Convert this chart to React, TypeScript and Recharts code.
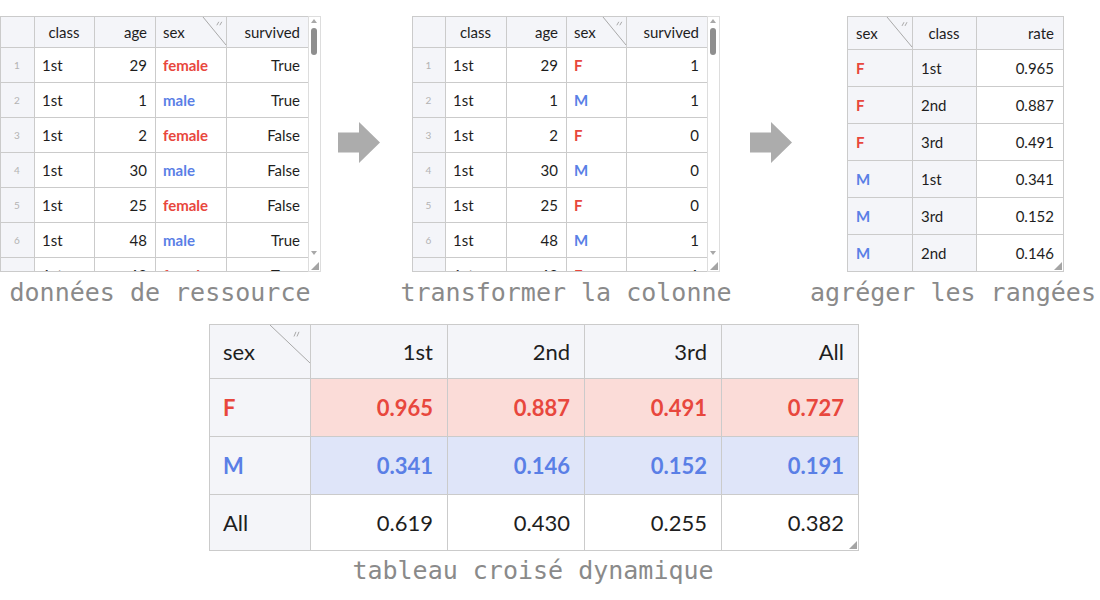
import { ScatterChart, Scatter, XAxis, YAxis } from "recharts"

const W = 1100
const H = 600

// source data (first rows of the titanic set)
const sourceHeader = ["class", "age", "sex", "survived"]
const sourceClass = ["1st", "1st", "1st", "1st", "1st", "1st", "1st"]
const sourceAge = [29, 1, 2, 30, 25, 48, 63]
const sourceSex = ["female", "male", "female", "male", "female", "male", "female"]
const sourceSurvived = ["True", "True", "False", "False", "False", "True", "True"]

// after column transform
const codedSex = ["F", "M", "F", "M", "F", "M", "F"]
const codedSurvived = [1, 1, 0, 0, 0, 1, 1]

// aggregated rows
const aggHeader = ["sex", "class", "rate"]
const aggSex = ["F", "F", "F", "M", "M", "M"]
const aggClass = ["1st", "2nd", "3rd", "1st", "3rd", "2nd"]
const aggRate = [0.965, 0.887, 0.491, 0.341, 0.152, 0.146]

// pivot table
const pivotHeader = ["sex", "1st", "2nd", "3rd", "All"]
const pivotRowLabels = ["F", "M", "All"]
const pivotF = [0.965, 0.887, 0.491, 0.727]
const pivotM = [0.341, 0.146, 0.152, 0.191]
const pivotAll = [0.619, 0.43, 0.255, 0.382]

const captions = ["données de ressource", "transformer la colonne", "agréger les rangées", "tableau croisé dynamique"]

const RED = "#e8473d"
const BLUE = "#5a7fe6"
const INK = "#1e1e1e"
const HEAD_BG = "#f4f5f9"
const GRID = "#cbcbcb"
const PINK = "#fbdcd8"
const LILAC = "#dfe5f9"
const CAPTION = "#8a8a8a"
const FONT = "Lato, 'Noto Sans', sans-serif"
const MONO = "'DejaVu Sans Mono', monospace"

type Anchor = "start" | "middle" | "end"
type Spec = { text: string; anchor?: Anchor; bg?: string; color?: string; bold?: boolean; size?: number }

const edges = (start: number, sizes: number[]) => {
  const e = [start]
  sizes.forEach((s) => e.push(e[e.length - 1] + s))
  return e
}

function gridCells(left: number, top: number, widths: number[], heights: number[], rows: Spec[][], pad: number, cut?: number) {
  const xs = edges(left, widths)
  const ys = edges(top, heights)
  const out: any[] = []
  rows.forEach((row, r) =>
    row.forEach((s, c) => {
      const w = widths[c]
      const h = heights[r]
      out.push({
        x: xs[c] + w / 2,
        y: ys[r] + h / 2,
        w,
        h,
        text: s.text,
        anchor: s.anchor ?? "start",
        bg: s.bg ?? "#ffffff",
        color: s.color ?? INK,
        bold: !!s.bold,
        size: s.size ?? 15,
        pad,
        visible: cut === undefined ? h : Math.max(0, Math.min(h, cut - ys[r])),
      })
    })
  )
  return out
}

const sexColor = (s: string) => (s === "female" || s === "F" ? RED : BLUE)
const srcAnchors: Anchor[] = ["middle", "end", "start", "end"]
const rowNo = (i: number): Spec => ({ text: String(i + 1), anchor: "middle", bg: HEAD_BG, color: "#b3b3b3", size: 10 })

const t1Rows: Spec[][] = [
  [{ text: "", bg: HEAD_BG }, ...sourceHeader.map((t, i) => ({ text: t, anchor: srcAnchors[i], bg: HEAD_BG }))],
  ...sourceClass.map((c, i): Spec[] => [
    rowNo(i),
    { text: c },
    { text: String(sourceAge[i]), anchor: "end" },
    { text: sourceSex[i], bold: true, color: sexColor(sourceSex[i]) },
    { text: sourceSurvived[i], anchor: "end" },
  ]),
]

const t2Rows: Spec[][] = [
  [{ text: "", bg: HEAD_BG }, ...sourceHeader.map((t, i) => ({ text: t, anchor: srcAnchors[i], bg: HEAD_BG }))],
  ...sourceClass.map((c, i): Spec[] => [
    rowNo(i),
    { text: c },
    { text: String(sourceAge[i]), anchor: "end" },
    { text: codedSex[i], bold: true, color: sexColor(codedSex[i]) },
    { text: String(codedSurvived[i]), anchor: "end" },
  ]),
]

const aggAnchors: Anchor[] = ["start", "middle", "end"]
const t3Rows: Spec[][] = [
  aggHeader.map((t, i) => ({ text: t, anchor: aggAnchors[i], bg: HEAD_BG })),
  ...aggSex.map((s, i): Spec[] => [
    { text: s, bold: true, color: sexColor(s), bg: HEAD_BG },
    { text: aggClass[i], bg: HEAD_BG },
    { text: aggRate[i].toFixed(3), anchor: "end" },
  ]),
]

const pivotValues = [pivotF, pivotM, pivotAll]
const pivotStyle = [
  { bg: PINK, color: RED, bold: true },
  { bg: LILAC, color: BLUE, bold: true },
  { bg: "#ffffff", color: INK, bold: false },
]
const t4Rows: Spec[][] = [
  pivotHeader.map((t, i) => ({ text: t, anchor: i === 0 ? "start" : "end", bg: HEAD_BG, size: 22 })),
  ...pivotRowLabels.map((label, r): Spec[] => [
    { text: label, bg: HEAD_BG, color: pivotStyle[r].color, bold: pivotStyle[r].bold, size: 22 },
    ...pivotValues[r].map((v) => ({ text: v.toFixed(3), anchor: "end" as Anchor, ...pivotStyle[r], size: 22 })),
  ]),
]

// layout
const T1 = { left: 0, top: 16, widths: [34, 60, 61, 71, 82], heights: [31, 35, 35, 35, 35, 35, 35, 35], cut: 271 }
const T2 = { left: 412, top: 16, widths: [33, 61, 60, 60, 81], heights: [31, 35, 35, 35, 35, 35, 35, 35], cut: 271 }
const T3 = { left: 847, top: 16, widths: [65, 64, 87], heights: [33, 37, 37, 37, 37, 37, 37] }
const T4 = { left: 209, top: 324, widths: [101, 137, 137, 137, 137], heights: [54, 58, 58, 56] }

const cells = [
  ...gridCells(T1.left, T1.top, T1.widths, T1.heights, t1Rows, 8, T1.cut),
  ...gridCells(T2.left, T2.top, T2.widths, T2.heights, t2Rows, 8, T2.cut),
  ...gridCells(T3.left, T3.top, T3.widths, T3.heights, t3Rows, 9),
  ...gridCells(T4.left, T4.top, T4.widths, T4.heights, t4Rows, 14),
]

const sum = (a: number[]) => a.reduce((s, v) => s + v, 0)
const box = (kind: string, left: number, top: number, w: number, h: number, extra: any = {}) => ({
  kind, x: left + w / 2, y: top + h / 2, w, h, ...extra,
})

const t1W = sum(T1.widths)
const t2W = sum(T2.widths)
const t3W = sum(T3.widths)
const t4W = sum(T4.widths)
const t3H = sum(T3.heights)
const t4H = sum(T4.heights)

const decor = [
  box("frame", T1.left, T1.top, t1W + 12, T1.cut - T1.top),
  box("scroll", T1.left + t1W, T1.top, 12, T1.cut - T1.top),
  box("frame", T2.left, T2.top, t2W + 12, T2.cut - T2.top),
  box("scroll", T2.left + t2W, T2.top, 12, T2.cut - T2.top),
  box("frame", T3.left, T3.top, t3W, t3H),
  box("frame", T4.left, T4.top, t4W, t4H),
  box("sort", edges(T1.left, T1.widths)[4] - 23, T1.top, 23, 29),
  box("sort", edges(T2.left, T2.widths)[4] - 23, T2.top, 23, 29),
  box("sort", T3.left + T3.widths[0] - 25, T3.top, 25, 31),
  box("sort", T4.left + T4.widths[0] - 40, T4.top, 40, 39),
  box("grip", T1.left + t1W + 3, T1.cut - 9, 8, 8),
  box("grip", T2.left + t2W + 3, T2.cut - 9, 8, 8),
  box("grip", T3.left + t3W - 9, T3.top + t3H - 9, 8, 8),
  box("grip", T4.left + t4W - 9, T4.top + t4H - 9, 8, 8),
  box("arrow", 338, 122, 42, 41),
  box("arrow", 750, 122, 42, 41),
  { kind: "caption", x: 160, y: 292, text: captions[0] },
  { kind: "caption", x: 566, y: 292, text: captions[1] },
  { kind: "caption", x: 953, y: 292, text: captions[2] },
  { kind: "caption", x: 533, y: 570, text: captions[3] },
]

function CellShape(props: any) {
  const { cx, cy, payload: p } = props
  if (!p) return null
  const left = cx - p.w / 2
  const top = cy - p.h / 2
  const tx = p.anchor === "start" ? left + p.pad : p.anchor === "end" ? left + p.w - p.pad : cx
  const body = (
    <g>
      <rect x={left + 0.5} y={top + 0.5} width={p.w} height={p.h} fill={p.bg} stroke={GRID} />
      {p.text !== "" && (
        <text
          x={tx}
          y={cy}
          textAnchor={p.anchor}
          dominantBaseline="central"
          fontFamily={FONT}
          fontSize={p.size}
          fontWeight={p.bold ? 700 : 400}
          fill={p.color}
        >
          {p.text}
        </text>
      )}
    </g>
  )
  if (p.visible >= p.h) return body
  if (p.visible <= 0) return null
  const id = `clip-${Math.round(left)}-${Math.round(top)}`
  return (
    <g>
      <defs>
        <clipPath id={id}>
          <rect x={left} y={top} width={p.w + 1} height={p.visible} />
        </clipPath>
      </defs>
      <g clipPath={`url(#${id})`}>{body}</g>
    </g>
  )
}

function DecorShape(props: any) {
  const { cx, cy, payload: d } = props
  if (!d) return null
  const left = cx - (d.w ?? 0) / 2
  const top = cy - (d.h ?? 0) / 2
  switch (d.kind) {
    case "frame":
      return <rect x={left + 0.5} y={top + 0.5} width={d.w} height={d.h} fill="none" stroke={GRID} />
    case "scroll": {
      const mid = left + d.w / 2
      return (
        <g>
          <rect x={left + 0.5} y={top + 0.5} width={d.w} height={d.h} fill="#ffffff" stroke="#dddddd" />
          <polygon points={`${mid - 3},${top + 7} ${mid + 3},${top + 7} ${mid},${top + 3}`} fill="#a8a8a8" />
          <rect x={mid - 3} y={top + 12} width={6} height={27} rx={3} fill="#8e8e8e" />
          <polygon points={`${mid - 3},${top + d.h - 20} ${mid + 3},${top + d.h - 20} ${mid},${top + d.h - 16}`} fill="#a8a8a8" />
        </g>
      )
    }
    case "sort":
      return (
        <g stroke="#a9a9a9" strokeWidth={1}>
          <line x1={left} y1={top + 1} x2={left + d.w} y2={top + d.h} />
          <line x1={left + d.w * 0.6} y1={top + d.h * 0.32} x2={left + d.w * 0.6 + 2} y2={top + d.h * 0.2} />
          <line x1={left + d.w * 0.6 + 3} y1={top + d.h * 0.32} x2={left + d.w * 0.6 + 5} y2={top + d.h * 0.2} />
        </g>
      )
    case "grip":
      return <polygon points={`${left},${top + d.h} ${left + d.w},${top + d.h} ${left + d.w},${top}`} fill="#a4a4a4" />
    case "arrow": {
      const sTop = cy - 10
      const sBot = cy + 10
      const hx = left + d.w / 2
      return (
        <polygon
          points={`${left},${sTop} ${hx},${sTop} ${hx},${top} ${left + d.w},${cy} ${hx},${top + d.h} ${hx},${sBot} ${left},${sBot}`}
          fill="#acacac"
        />
      )
    }
    case "caption":
      return (
        <text x={cx} y={cy} textAnchor="middle" dominantBaseline="central" fontFamily={MONO} fontSize={25} fill={CAPTION}>
          {d.text}
        </text>
      )
    default:
      return null
  }
}

export default function App() {
  return (
    <div style={{ position: "absolute", left: 0, top: 0, width: W, height: H, background: "#ffffff" }}>
      <ScatterChart width={W} height={H} margin={{ top: 0, right: 0, bottom: 0, left: 0 }}>
        <XAxis type="number" dataKey="x" domain={[0, W]} allowDataOverflow hide />
        <YAxis type="number" dataKey="y" domain={[0, H]} allowDataOverflow reversed hide />
        <Scatter data={cells} shape={(p: any) => <CellShape {...p} />} isAnimationActive={false} />
        <Scatter data={decor} shape={(p: any) => <DecorShape {...p} />} isAnimationActive={false} />
      </ScatterChart>
    </div>
  )
}
